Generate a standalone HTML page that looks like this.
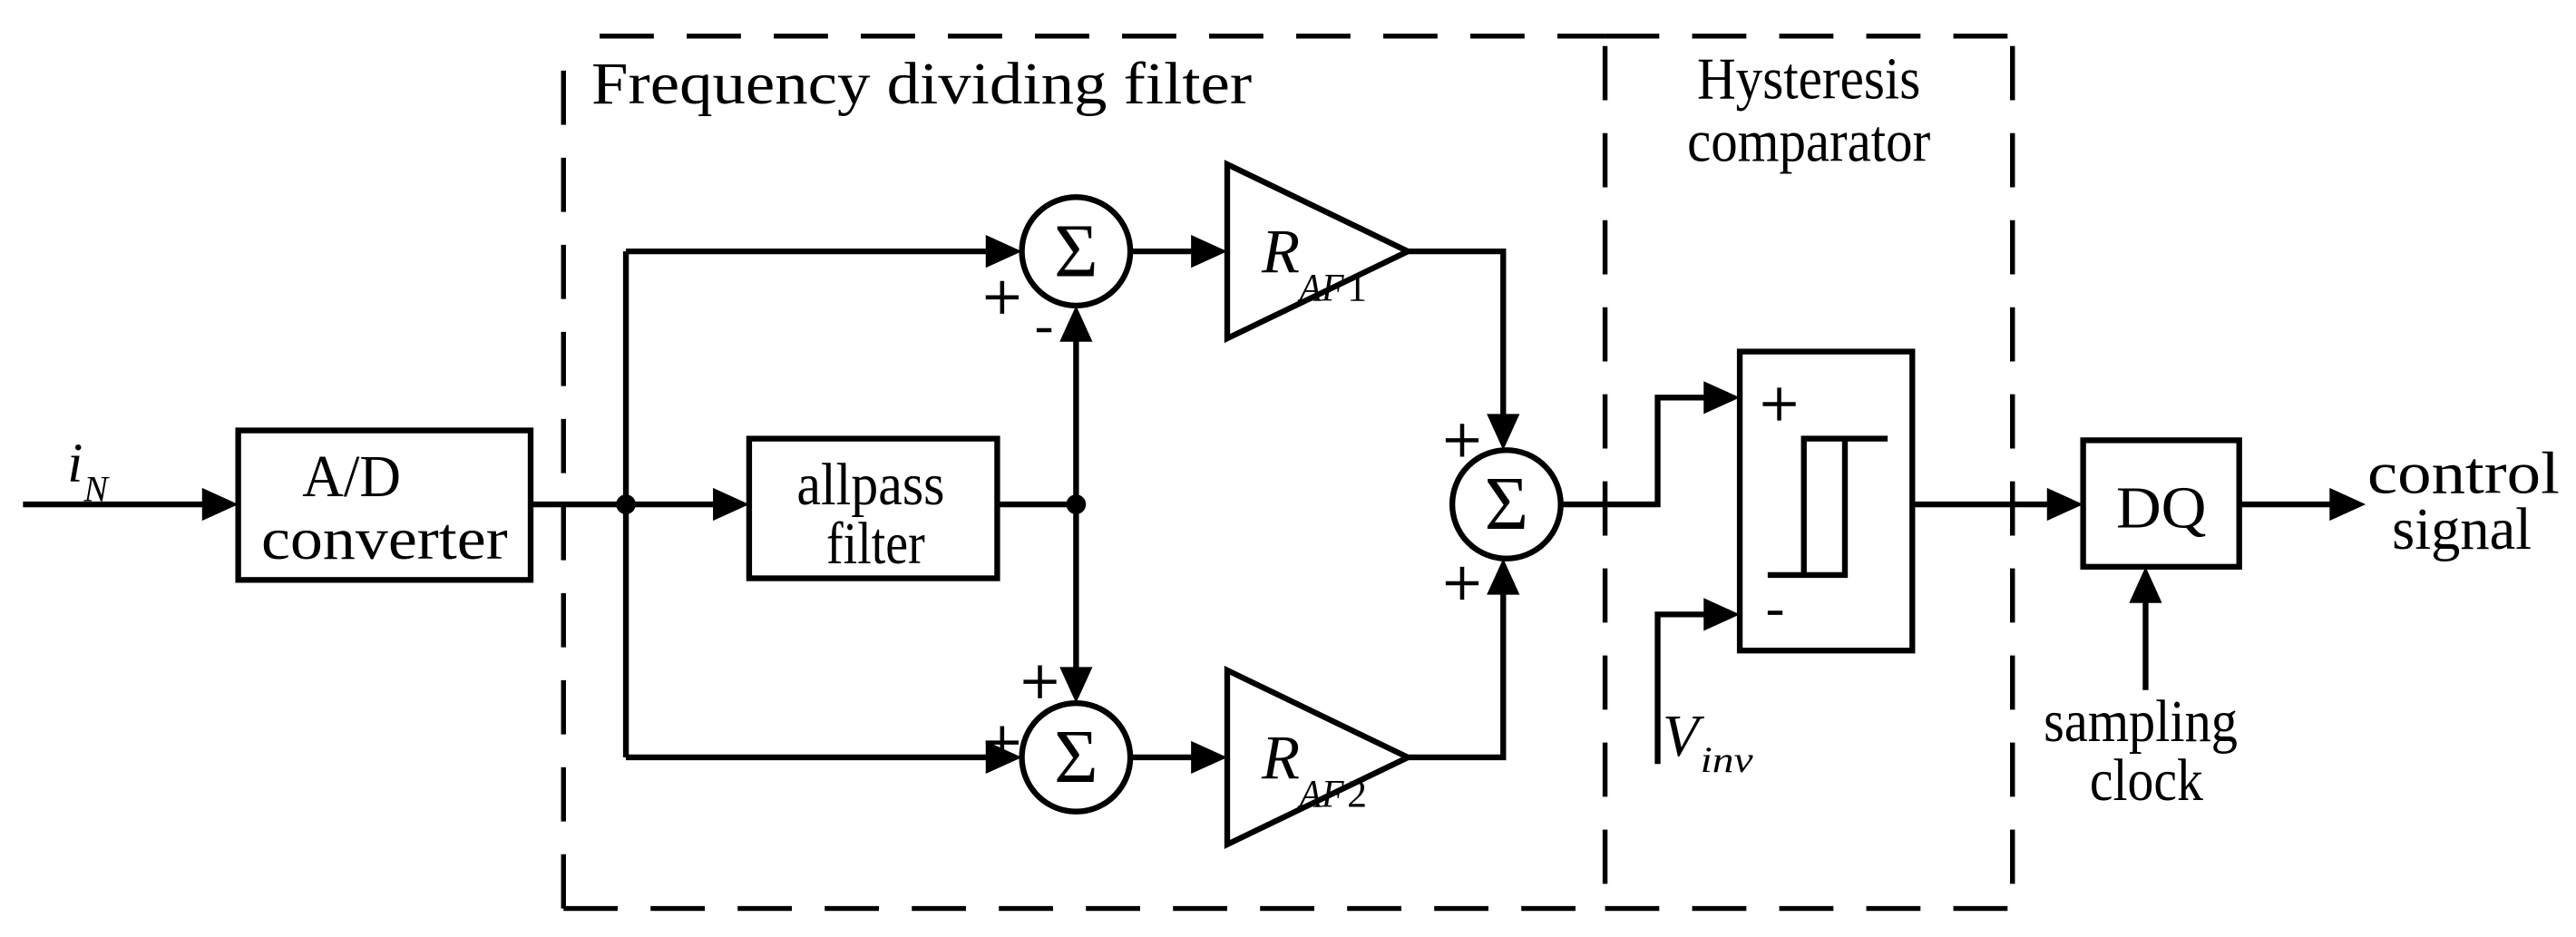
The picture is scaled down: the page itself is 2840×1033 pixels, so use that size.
<!DOCTYPE html>
<html><head><meta charset="utf-8"><style>
html,body{margin:0;padding:0;background:#fff;}
svg{display:block;}
text{font-family:"Liberation Serif","Times New Roman",serif;fill:#000;}
</style></head><body>
<svg width="2840" height="1033" viewBox="0 0 1568 570.35" preserveAspectRatio="none" xmlns="http://www.w3.org/2000/svg">
<g fill="none" stroke="#000" stroke-width="3.5">
<g stroke-dasharray="33,20" stroke-width="3">
<path d="M343,553 V28"/>
<path d="M343,553 H977"/>
<path d="M365,22 H977"/>
<path d="M977,28 V553"/>
<path d="M977,553 H1225"/>
<path d="M977,22 H1225"/>
<path d="M1225,28 V553"/>
</g>
<rect x="145" y="262" width="178" height="91"/>
<rect x="456" y="267" width="151" height="85"/>
<rect x="1059" y="214" width="105" height="182"/>
<rect x="1268" y="268" width="95" height="77"/>
<circle cx="655" cy="153" r="33"/>
<circle cx="655" cy="461" r="33"/>
<circle cx="917" cy="307" r="33"/>
<path d="M747,100 L857,153 L747,206 Z"/>
<path d="M747,408 L857,461 L747,514 Z"/>
<path d="M14,307 H125"/>
<path d="M323,307 H436"/>
<path d="M381,153 V461"/>
<path d="M381,153 H602"/>
<path d="M381,461 H602"/>
<path d="M607,307 H655"/>
<path d="M655,205 V410"/>
<path d="M688,153 H727"/>
<path d="M688,461 H727"/>
<path d="M857,153 H915 V254"/>
<path d="M857,461 H915 V360"/>
<path d="M950,307 H1009 V242 H1040"/>
<path d="M1009,465 V374 H1040"/>
<path d="M1164,307 H1248"/>
<path d="M1363,307 H1420"/>
<path d="M1306,420 V365"/>
<path d="M1149,267 H1098 V350"/>
<path d="M1076,350 H1123 V267"/>
</g>
<g fill="none" stroke="#000" stroke-width="2.5">
<path d="M600,181 h20 M610,171 v20"/>
<path d="M631,201 h9"/>
<path d="M623,415 h20 M633,405 v20"/>
<path d="M600,452 h20 M610,442 v20"/>
<path d="M880,268 h20 M890,258 v20"/>
<path d="M880,355 h20 M890,345 v20"/>
<path d="M1073,246 h20 M1083,236 v20"/>
<path d="M1076,373 h9"/>
</g>
<g fill="#000" stroke="none">
<circle cx="381" cy="307" r="6"/>
<circle cx="655" cy="307" r="6"/>
<path d="M145,307 l-22,-10 v20z"/>
<path d="M456,307 l-22,-10 v20z"/>
<path d="M622,153 l-22,-10 v20z"/>
<path d="M622,461 l-22,-10 v20z"/>
<path d="M747,153 l-22,-10 v20z"/>
<path d="M747,461 l-22,-10 v20z"/>
<path d="M1059,242 l-22,-10 v20z"/>
<path d="M1059,374 l-22,-10 v20z"/>
<path d="M1268,307 l-22,-10 v20z"/>
<path d="M1440,307 l-22,-10 v20z"/>
<path d="M655,186 l-10,22 h20z"/>
<path d="M655,428 l-10,-22 h20z"/>
<path d="M915,274 l-10,-22 h20z"/>
<path d="M915,340 l-10,22 h20z"/>
<path d="M1306,345 l-10,22 h20z"/>
</g>
<g font-size="36" lengthAdjust="spacingAndGlyphs">
<text x="360" y="63" textLength="402" lengthAdjust="spacingAndGlyphs">Frequency dividing filter</text>
<text x="1033" y="60" textLength="136" lengthAdjust="spacingAndGlyphs">Hysteresis</text>
<text x="1027" y="98" textLength="148" lengthAdjust="spacingAndGlyphs">comparator</text>
<text x="184" y="302" textLength="60" lengthAdjust="spacingAndGlyphs">A/D</text>
<text x="159" y="340" textLength="150" lengthAdjust="spacingAndGlyphs">converter</text>
<text x="485" y="307" textLength="90" lengthAdjust="spacingAndGlyphs">allpass</text>
<text x="503" y="343" textLength="60" lengthAdjust="spacingAndGlyphs">filter</text>
<text x="1288" y="321" textLength="55" lengthAdjust="spacingAndGlyphs">DQ</text>
<text x="1441" y="300" textLength="117" lengthAdjust="spacingAndGlyphs">control</text>
<text x="1456" y="334" textLength="85" lengthAdjust="spacingAndGlyphs">signal</text>
<text x="1244" y="451" textLength="118" lengthAdjust="spacingAndGlyphs">sampling</text>
<text x="1272" y="487" textLength="69" lengthAdjust="spacingAndGlyphs">clock</text>
</g>
<text x="41" y="293" font-size="34" font-style="italic">i</text>
<text x="51" y="305" font-size="22" font-style="italic">N</text>
<text x="1012" y="460" font-size="36" font-style="italic">V</text>
<text x="1035" y="470" font-size="22" font-style="italic" textLength="32" lengthAdjust="spacingAndGlyphs">inv</text>
<text x="768" y="166" font-size="38" font-style="italic">R</text>
<text x="791" y="183" font-size="24" font-style="italic" textLength="27" lengthAdjust="spacingAndGlyphs">AF</text>
<text x="820" y="183" font-size="24">1</text>
<text x="768" y="474" font-size="38" font-style="italic">R</text>
<text x="791" y="491" font-size="24" font-style="italic" textLength="27" lengthAdjust="spacingAndGlyphs">AF</text>
<text x="820" y="491" font-size="24">2</text>
<g font-size="46" text-anchor="middle">
<text x="655" y="168">Σ</text>
<text x="655" y="476">Σ</text>
<text x="917" y="322">Σ</text>
</g>
</svg>
</body></html>
